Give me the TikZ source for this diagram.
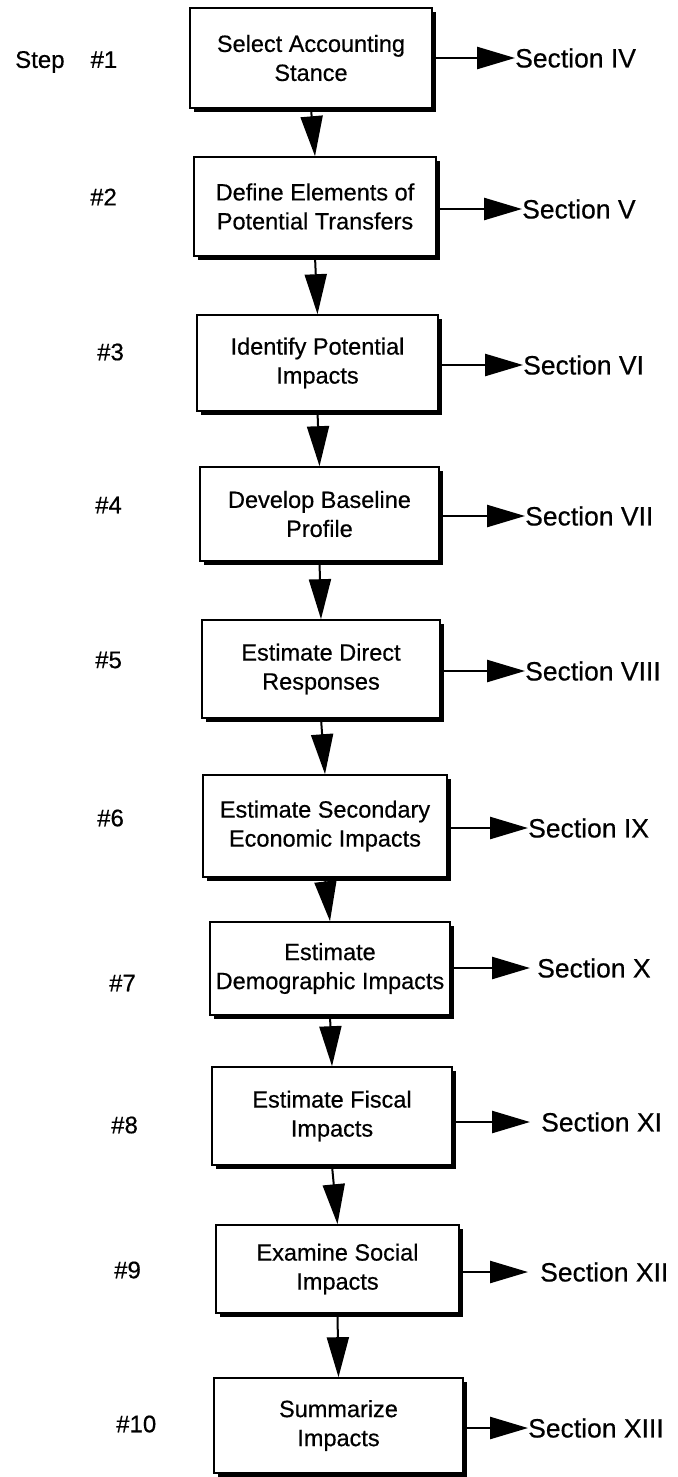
\documentclass[tikz,border=0pt]{standalone}
\usepackage{fontspec}
\setmainfont{Liberation Sans}
\newfontfamily\diafont{Liberation Sans}[FakeBold=0.5]
\usetikzlibrary{arrows.meta,shadows}
\begin{document}
\begin{tikzpicture}[x=1pt,y=-1pt,
  stepbox/.style={draw=black,line width=1.6pt,fill=white,align=center,
    font=\diafont\fontsize{23.5}{29}\selectfont,inner sep=2pt,
    drop shadow={shadow xshift=4pt,shadow yshift=-4pt,fill=black,opacity=1}},
  numlabel/.style={anchor=west,font=\diafont\fontsize{24}{28}\selectfont,inner sep=0pt},
  seclabel/.style={anchor=west,font=\diafont\fontsize{26.5}{30}\selectfont,inner sep=0pt},
  down/.style={line width=2pt,-{Triangle[length=40pt,width=22pt]}},
  right/.style={line width=2.5pt,-{Triangle[length=38pt,width=22pt]}}]
\useasboundingbox (0,0) rectangle (677,1477);
% boxes: (left,top) to (right,bottom)
\newcommand{\mybox}[6]{%
  \node[stepbox,minimum width={#4-#2},minimum height={#5-#3}] (#1) at ({(#2+#4)/2},{(#3+#5)/2}) {#6};}
\mybox{b1}{190}{8}{432}{108}{Select Accounting\\Stance}
\mybox{b2}{194}{157}{436}{256}{Define Elements of\\Potential Transfers}
\mybox{b3}{197}{315}{438}{411}{Identify Potential\\Impacts}
\mybox{b4}{200}{467}{439}{561}{Develop Baseline\\Profile}
\mybox{b5}{202}{620}{440}{718}{Estimate Direct\\Responses}
\mybox{b6}{203}{775}{447}{877}{Estimate Secondary\\Economic Impacts}
\mybox{b7}{210}{922}{450}{1015}{Estimate\\Demographic Impacts}
\mybox{b8}{212}{1067}{452}{1165}{Estimate Fiscal\\Impacts}
\mybox{b9}{216}{1225}{459}{1313}{Examine Social\\Impacts}
\mybox{b10}{214}{1378}{463}{1473}{Summarize\\Impacts}
% step numbers
\node[numlabel] (n1) at (15,62) {Step\hspace{26pt}\#1};
\node[numlabel] (n2) at (90,197) {\#2};
\node[numlabel] (n3) at (97,352) {\#3};
\node[numlabel] (n4) at (95,505) {\#4};
\node[numlabel] (n5) at (95,660) {\#5};
\node[numlabel] (n6) at (97,818) {\#6};
\node[numlabel] (n7) at (109,983) {\#7};
\node[numlabel] (n8) at (111,1125) {\#8};
\node[numlabel] (n9) at (114,1270) {\#9};
\node[numlabel] (n10) at (116,1424) {\#10};
% section labels
\node[seclabel] (s1) at (515,58) {Section IV};
\node[seclabel] (s2) at (522,209) {Section V};
\node[seclabel] (s3) at (523,365) {Section VI};
\node[seclabel] (s4) at (525,516) {Section VII};
\node[seclabel] (s5) at (525,671) {Section VIII};
\node[seclabel] (s6) at (528,828) {Section IX};
\node[seclabel] (s7) at (537,968) {Section X};
\node[seclabel] (s8) at (541,1122) {Section XI};
\node[seclabel] (s9) at (540,1272) {Section XII};
\node[seclabel] (s10) at (528,1428) {Section XIII};
% vertical arrows
\foreach \a/\b in {b1/b2,b2/b3,b3/b4,b4/b5,b5/b6,b6/b7,b7/b8,b8/b9,b9/b10}
  \draw[down] (\a.south) -- (\b.north);
% horizontal arrows
\foreach \i/\g in {1/0,2/0,3/0,4/0,5/0,6/0,7/7,8/11,9/12,10/0}
  \draw[right] (b\i.east |- s\i.west) -- ([xshift=-\g pt]s\i.west);
\end{tikzpicture}
\end{document}
